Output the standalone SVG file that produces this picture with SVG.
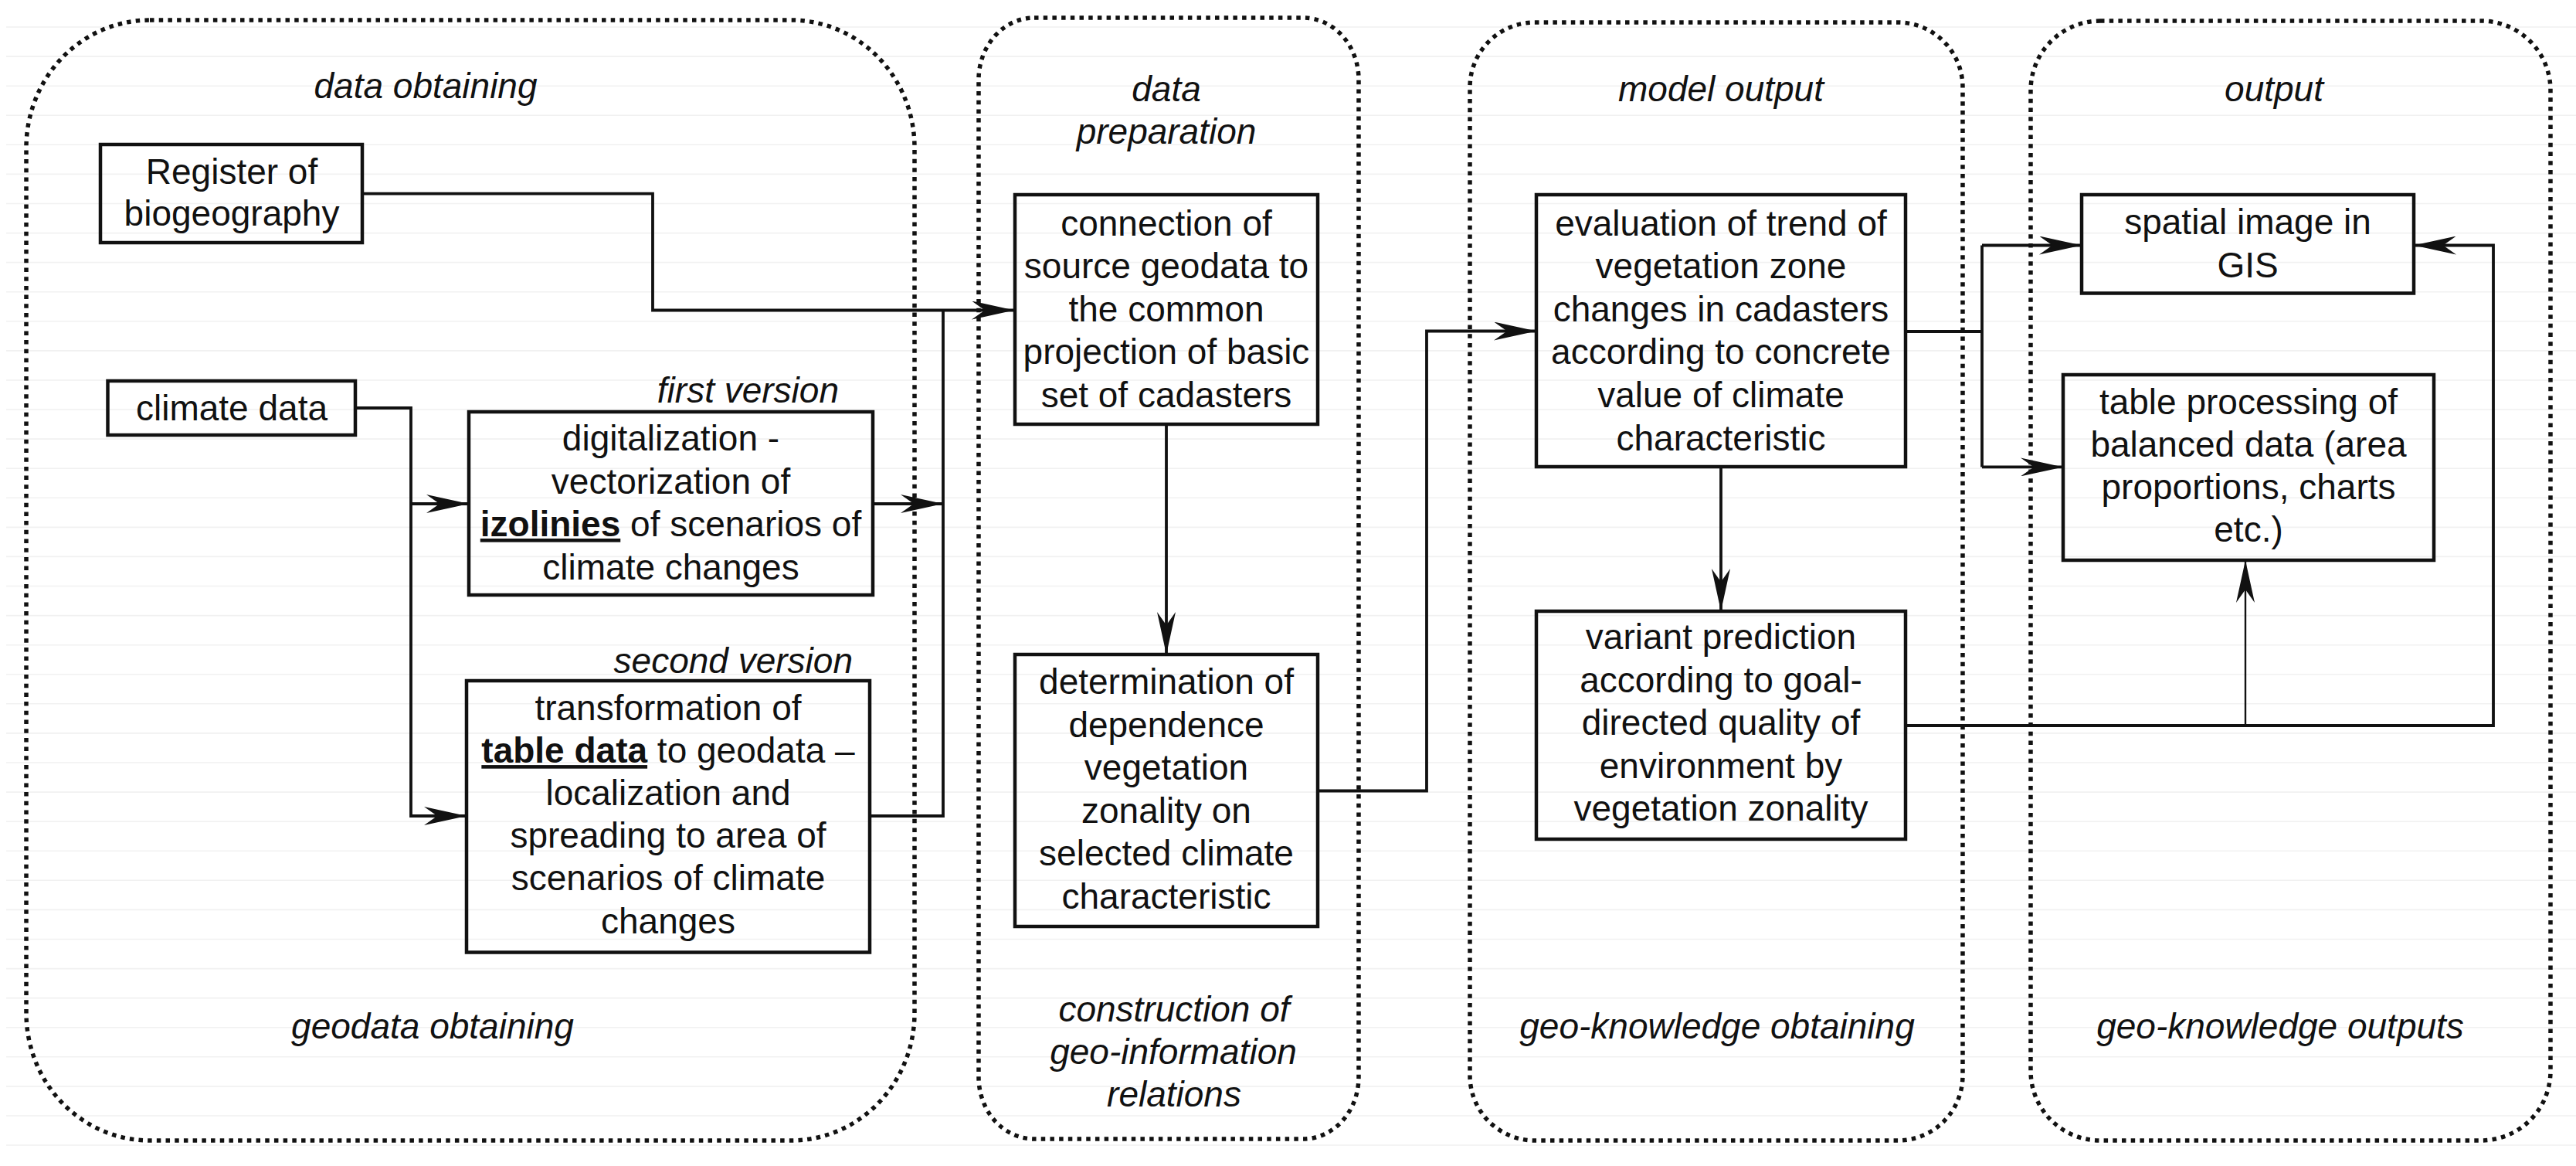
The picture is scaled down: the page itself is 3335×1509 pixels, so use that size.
<svg xmlns="http://www.w3.org/2000/svg" width="3335" height="1509" viewBox="0 0 3335 1509">
<defs>
<style>
.rule{stroke:#f1f1f1;stroke-width:1.6;fill:none}
.frame{fill:none;stroke:#111;stroke-width:5.5;stroke-dasharray:5.5 6.2}
.box{fill:none;stroke:#111;stroke-width:4.5}
.con{fill:none;stroke:#111;stroke-width:3.8}
.thin{fill:none;stroke:#111;stroke-width:2.4}
text{font-family:"Liberation Sans",Arial,Helvetica,sans-serif;font-size:46px;fill:#111}
.c{text-anchor:middle}
.it{font-style:italic}
.b{font-weight:bold;text-decoration:underline}
</style>
<marker id="arr" markerUnits="userSpaceOnUse" viewBox="0 0 55 24" markerWidth="55" markerHeight="24" refX="55" refY="12" orient="auto">
<path d="M0,0 L55,12 L0,24 L17,12 Z" fill="#111"/>
</marker>
</defs>
<rect x="0" y="0" width="3335" height="1509" fill="#fff"/>
<g id="ruling" class="rule">
<path d="M8,35H3335M8,73.1H3335M8,111.2H3335M8,149.2H3335M8,187.3H3335M8,225.4H3335M8,263.5H3335M8,301.6H3335M8,339.6H3335M8,377.7H3335M8,415.8H3335M8,453.9H3335M8,492H3335M8,530H3335M8,568.1H3335M8,606.2H3335M8,644.3H3335M8,682.4H3335M8,720.4H3335M8,758.5H3335M8,796.6H3335M8,834.7H3335M8,872.8H3335M8,910.8H3335M8,948.9H3335M8,987H3335M8,1025.1H3335M8,1063.2H3335M8,1101.2H3335M8,1139.3H3335M8,1177.4H3335M8,1215.5H3335M8,1253.6H3335M8,1291.6H3335M8,1329.7H3335M8,1367.8H3335M8,1405.9H3335M8,1444H3335M8,1482H3335"/>
</g>
<g id="frame-geodata-obtaining">
<rect class="frame" x="34" y="26" width="1150" height="1450" rx="160" ry="165"/>
<text class="c it" x="551" y="127">data obtaining</text>
<text class="c it" x="560" y="1344">geodata obtaining</text>
</g>
<g id="frame-data-preparation">
<rect class="frame" x="1267" y="23" width="492" height="1451" rx="72" ry="80"/>
<text class="c it" x="1510" y="131">data</text>
<text class="c it" x="1510" y="186">preparation</text>
<text class="c it" x="1520" y="1322">construction of</text>
<text class="c it" x="1519" y="1377">geo-information</text>
<text class="c it" x="1520" y="1432">relations</text>
</g>
<g id="frame-model-output">
<rect class="frame" x="1903" y="29" width="638" height="1447" rx="84" ry="84"/>
<text class="c it" x="2228" y="131">model output</text>
<text class="c it" x="2223" y="1344">geo-knowledge obtaining</text>
</g>
<g id="frame-output">
<rect class="frame" x="2629" y="27" width="673" height="1449" rx="90" ry="90"/>
<text class="c it" x="2944" y="131">output</text>
<text class="c it" x="2952" y="1344">geo-knowledge outputs</text>
</g>
<g id="connectors">
<path class="con" d="M469,250.6H845V401.5H1313" marker-end="url(#arr)"/>
<path class="con" d="M1126,1056H1221V401.5"/>
<path class="con" d="M1130,652H1221" marker-end="url(#arr)"/>
<path class="con" d="M460,528H532V1056H604" marker-end="url(#arr)"/>
<path class="con" d="M532,652H607" marker-end="url(#arr)"/>
<path class="con" d="M1510,549V847" marker-end="url(#arr)"/>
<path class="con" d="M1706,1023.5H1847V428.5H1989" marker-end="url(#arr)"/>
<path class="con" d="M2228,604V791" marker-end="url(#arr)"/>
<path class="con" d="M2467,429H2566"/>
<path class="con" d="M2566,317.5V604.4"/>
<path class="con" d="M2566,317.5H2695" marker-end="url(#arr)"/>
<path class="con" d="M2566,604.4H2671" marker-end="url(#arr)"/>
<path class="con" d="M2467,939H3228V317.5H3125" marker-end="url(#arr)"/>
<path class="thin" d="M2907,939V725" marker-end="url(#arr)"/>
</g>
<g id="register">
<rect class="box" x="130" y="187" width="339" height="127"/>
<text class="c" x="300" y="238">Register of</text>
<text class="c" x="300" y="292">biogeography</text>
</g>
<g id="climate-data">
<rect class="box" x="139.5" y="493" width="320.5" height="70"/>
<text class="c" x="300" y="544">climate data</text>
</g>
<g id="first-version">
<text class="it" x="1086" y="521" text-anchor="end">first version</text>
<rect class="box" x="607" y="533" width="523" height="237"/>
<text class="c" x="868.5" y="583">digitalization -</text>
<text class="c" x="868.5" y="638.5">vectorization of</text>
<text class="c" x="868.5" y="694"><tspan class="b">izolinies</tspan> of scenarios of</text>
<text class="c" x="868.5" y="749.5">climate changes</text>
</g>
<g id="second-version">
<text class="it" x="1104" y="871" text-anchor="end">second version</text>
<rect class="box" x="604" y="881" width="522" height="351.5"/>
<text class="c" x="865" y="932">transformation of</text>
<text class="c" x="865" y="987.1"><tspan class="b">table data</tspan> to geodata –</text>
<text class="c" x="865" y="1042.2">localization and</text>
<text class="c" x="865" y="1097.3">spreading to area of</text>
<text class="c" x="865" y="1152.4">scenarios of climate</text>
<text class="c" x="865" y="1207.5">changes</text>
</g>
<g id="connection">
<rect class="box" x="1314" y="252" width="392" height="297"/>
<text class="c" x="1510" y="304.5">connection of</text>
<text class="c" x="1510" y="360.1">source geodata to</text>
<text class="c" x="1510" y="415.7">the common</text>
<text class="c" x="1510" y="471.3">projection of basic</text>
<text class="c" x="1510" y="526.9">set of cadasters</text>
</g>
<g id="determination">
<rect class="box" x="1314" y="847" width="392" height="352"/>
<text class="c" x="1510" y="898">determination of</text>
<text class="c" x="1510" y="953.6">dependence</text>
<text class="c" x="1510" y="1009.2">vegetation</text>
<text class="c" x="1510" y="1064.8">zonality on</text>
<text class="c" x="1510" y="1120.4">selected climate</text>
<text class="c" x="1510" y="1176">characteristic</text>
</g>
<g id="evaluation">
<rect class="box" x="1989" y="252" width="478" height="352"/>
<text class="c" x="2228" y="304.5">evaluation of trend of</text>
<text class="c" x="2228" y="360.1">vegetation zone</text>
<text class="c" x="2228" y="415.7">changes in cadasters</text>
<text class="c" x="2228" y="471.3">according to concrete</text>
<text class="c" x="2228" y="526.9">value of climate</text>
<text class="c" x="2228" y="582.5">characteristic</text>
</g>
<g id="variant">
<rect class="box" x="1989" y="791" width="478" height="295"/>
<text class="c" x="2228" y="840">variant prediction</text>
<text class="c" x="2228" y="895.6">according to goal-</text>
<text class="c" x="2228" y="951.2">directed quality of</text>
<text class="c" x="2228" y="1006.8">environment by</text>
<text class="c" x="2228" y="1062.4">vegetation zonality</text>
</g>
<g id="spatial">
<rect class="box" x="2695" y="252" width="430" height="127.5"/>
<text class="c" x="2910" y="303">spatial image in</text>
<text class="c" x="2910" y="358.5">GIS</text>
</g>
<g id="table">
<rect class="box" x="2671" y="485" width="480" height="240"/>
<text class="c" x="2911" y="535.6">table processing of</text>
<text class="c" x="2911" y="590.8">balanced data (area</text>
<text class="c" x="2911" y="646">proportions, charts</text>
<text class="c" x="2911" y="701.2">etc.)</text>
</g>
</svg>
